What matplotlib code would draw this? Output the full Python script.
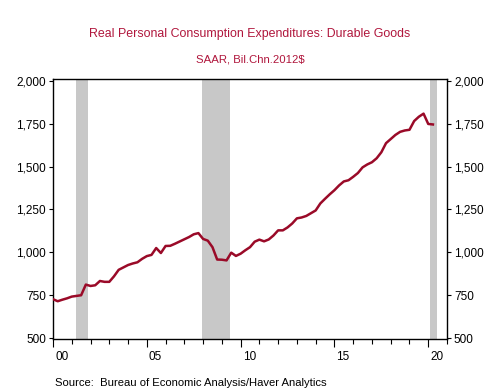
import numpy as np
import matplotlib
matplotlib.use("Agg")
import matplotlib.pyplot as plt
from matplotlib.transforms import ScaledTranslation

# quarterly real PCE durable goods, bil. chained 2012$, 2000Q1 - 2020Q2
years = list(range(2000, 2021))
values = [
    727, 715, 724, 732,
    742, 746, 750, 812,
    804, 808, 833, 828,
    828, 860, 898, 912,
    926, 935, 942, 962,
    978, 985, 1025, 996,
    1037, 1038, 1050, 1063,
    1076, 1089, 1105, 1112,
    1078, 1068, 1030, 958,
    957, 953, 998, 979,
    992, 1012, 1030, 1062,
    1074, 1064, 1075, 1098,
    1128, 1128, 1145, 1168,
    1198, 1203, 1212, 1228,
    1244, 1285, 1312, 1338,
    1362, 1390, 1413, 1420,
    1440, 1462, 1495, 1512,
    1525, 1548, 1583, 1636,
    1660, 1684, 1702, 1710,
    1714, 1765, 1790, 1808,
    1748, 1745,
]
# recession periods (start, end) in decimal years
recessions = [(2001.2, 2001.85), (2007.95, 2009.42), (2020.1, 2020.48)]
y_ticks = [500, 750, 1000, 1250, 1500, 1750, 2000]
x_major = [2000, 2005, 2010, 2015, 2020]
x_labels = ["00", "05", "10", "15", "20"]

dates = np.array([2000 + i / 4 for i in range(len(values))])

plt.rcParams['font.family'] = ['Liberation Sans', 'DejaVu Sans']

fig = plt.figure(figsize=(5, 3.91), dpi=100)
ax = fig.add_axes([0.106, 0.133, 0.788, 0.665])

for start, end in recessions:
    ax.axvspan(start, end, color='#c8c8c8', lw=0, zorder=1)

ax.plot(dates, values, color='#9a0a28', lw=1.8, zorder=3)

ax.set_xlim(2000, 2021)
ax.set_ylim(495, 2010)

ax.set_yticks(y_ticks)
ax.set_yticklabels([f"{v:,}" for v in y_ticks])
ax.tick_params(axis='y', direction='out', length=3, width=0.8, labelsize=8.5,
               right=True, labelright=True, pad=2)

ax.set_xticks(x_major)
ax.set_xticklabels(x_labels, ha='left')
ax.set_xticks(years + [2021], minor=True)
ax.tick_params(axis='x', which='major', direction='out', length=6, width=0.8,
               labelsize=8.5, pad=3)
ax.tick_params(axis='x', which='minor', direction='out', length=3.5, width=0.8)
offset = ScaledTranslation(2 / 100, 0, fig.dpi_scale_trans)
for lbl in ax.get_xticklabels():
    lbl.set_transform(lbl.get_transform() + offset)

for s in ax.spines.values():
    s.set_linewidth(1.0)
    s.set_color('black')

fig.text(0.5, 0.913, "Real Personal Consumption Expenditures: Durable Goods",
         ha='center', va='center', color='#b0163c', fontsize=8.9)
fig.text(0.5, 0.848, "SAAR, Bil.Chn.2012$", ha='center', va='center',
         color='#b0163c', fontsize=8.2)
fig.text(0.11, 0.02, "Source:  Bureau of Economic Analysis/Haver Analytics",
         ha='left', va='center', color='black', fontsize=8.1)

fig.savefig("out.png", dpi=100)
